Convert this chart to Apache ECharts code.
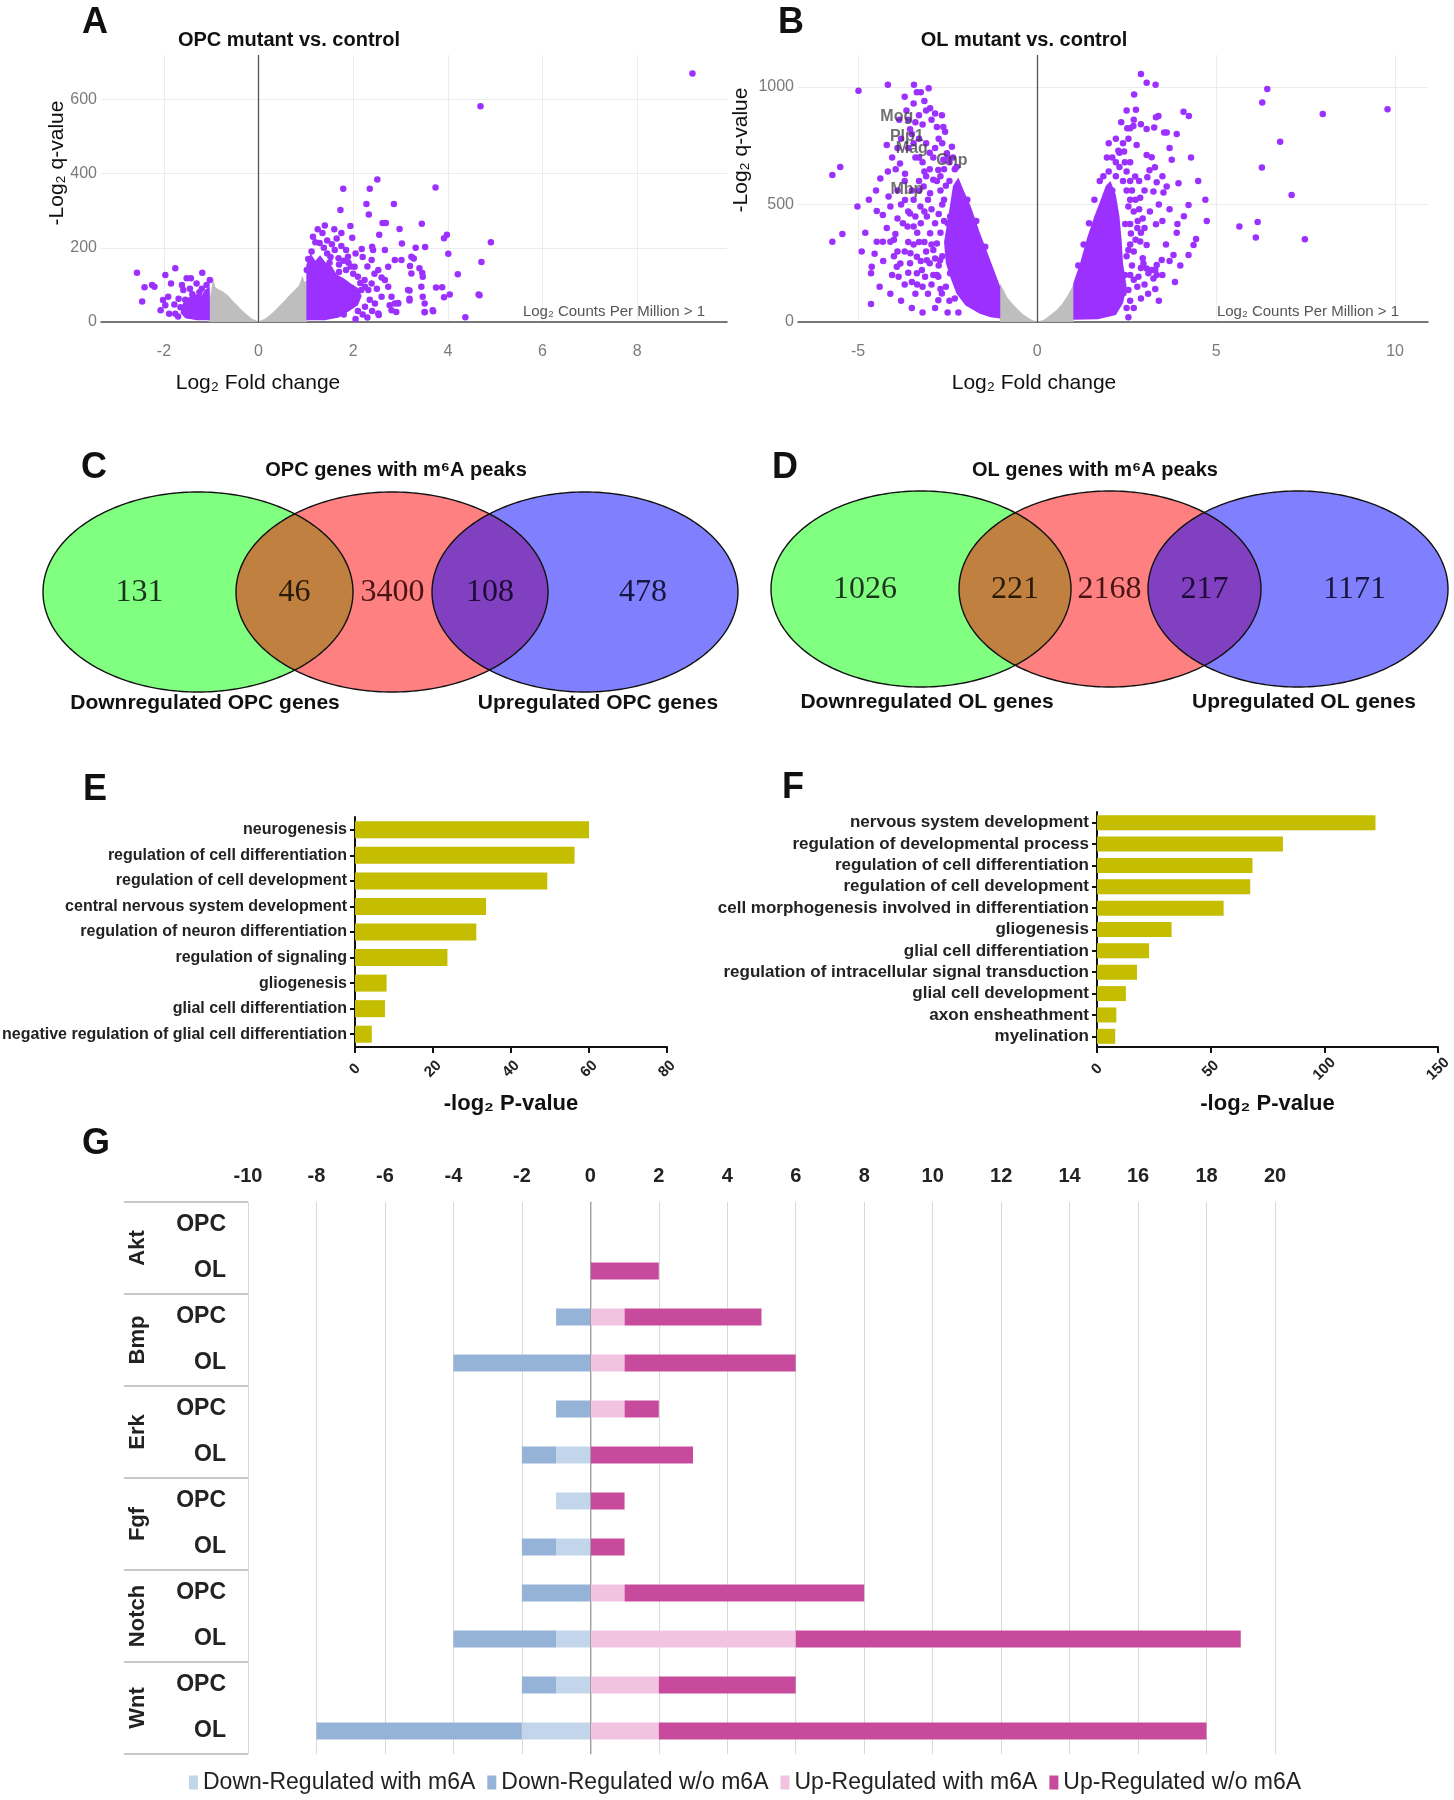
<!DOCTYPE html>
<html>
<head>
<meta charset="utf-8">
<script src="https://cdn.jsdelivr.net/npm/echarts@6/dist/echarts.min.js"></script>
<style>html,body{margin:0;padding:0;background:#fff}#chart{width:1454px;height:1800px}</style>
</head>
<body>
<div id="chart"></div>
<script>
// ================= DATA =================
// Panel A: OPC volcano (log2 fold change, -log2 q-value)
const opcSignificant = [
  [9.17,670],[4.69,582],[2.51,384],[3.74,363],[1.79,359],[2.35,359],[1.73,302],[2.28,318],[2.86,318],[2.33,290],
  [1.94,259],[2.98,251],[3.45,265],[2.62,267],[2.69,267],[2.55,235],[3.98,235],[3.92,226],[4.91,215],[1.98,227],
  [2.18,197],[3.32,200],[3.52,202],[3.03,212],[4.01,184],[4.71,162],[4.21,129],[3.28,171],[3.2,151],[3.46,132],
  [3.75,93],[3.88,94],[3.92,67],[4.67,72],[4.37,13],[3.51,26],[3.69,29],[3.19,85],[3.19,58],[2.95,51],
  [2.77,45],[2.54,19],[4.04,74],[2.4,203],[4.65,74],
  [1.61,194],[1.69,172],[1.85,194],[1.89,176],[2.03,149],[2.10,122],[1.85,140],[2.24,113],[2.32,86],[2.39,167],
  [2.53,140],[2.67,113],[2.74,95],[2.81,68],[2.6,68],[2.46,50],[2.25,41],[2.03,59],[1.92,77],[2.88,50],
  [2.74,149],[2.88,167],[3.02,167],[2.67,194],[2.42,194],[2.53,23],[2.81,32],[2.17,86],[2.39,104],[3.23,176],
  [3.23,131],[3.4,145],[3.47,122],[3.44,95],[3.16,86],[3.19,63],[3.47,68],[3.51,50],[2.95,50],[2.91,27],
  [3.51,27],[3.68,32],
  [1.05,170],[1.12,190],[1.2,215],[1.29,213],[1.38,200],[1.45,185],[1.52,175],[1.3,150],[1.02,140],[1.1,120],
  [1.5,160],[1.7,135],[1.78,100],[1.6,90],[1.9,90],[2.0,80],[1.95,50],[2.1,30],[1.8,20],[1.6,30],[1.4,40],[2.3,12],
  [1.15,230],[1.25,250],[1.35,240],[1.45,220],[1.55,210],[1.65,225],[1.75,205],[1.8,165],[1.95,150],[2.0,130],
  [2.15,105],[2.25,95],[2.35,60],[2.4,30],[2.2,20],[2.05,8],[1.9,160],[1.7,155],[2.5,90],[2.6,120],
  [2.45,130],[2.3,150],[2.2,175],[2.05,185],[1.75,240],[1.6,250],[1.4,260],
  [-2.57,133],[-2.46,55],[-2.41,94],[-2.25,100],[-2.2,95],[-1.97,127],[-2.02,59],[-2.07,32],[-1.85,104],[-1.76,145],
  [-1.91,68],[-1.78,47],[-1.76,22],[-1.62,100],[-1.52,118],[-1.43,118],[-1.59,86],[-1.31,104],[-1.19,133],[-1.03,113],
  [-1.45,90],[-1.2,90],[-1.89,22],[-1.97,45],[-1.69,63],[-1.48,18],[-1.1,100],[-1.25,80],[-1.4,75],[-1.55,60],
  [-1.65,40],[-1.7,15]
];
// dense cores of significant genes (outline)
const opcDenseUp = [[1.01,5],[1.01,155],[1.1,185],[1.2,165],[1.3,180],[1.42,160],[1.55,150],[1.65,128],[1.8,118],[1.95,104],[2.1,92],[2.18,70],[2.1,45],[1.9,28],[1.7,12],[1.4,5]];
const opcDenseDown = [[-1.03,5],[-1.03,95],[-1.12,88],[-1.2,72],[-1.35,75],[-1.5,65],[-1.6,50],[-1.65,25],[-1.55,10],[-1.3,5]];
// non-significant (grey) cloud upper envelope
const opcNonSig = [[-1.05,55],[-1.0,85],[-0.96,120],[-0.92,95],[-0.85,88],[-0.75,82],[-0.65,72],[-0.55,58],[-0.45,45],[-0.35,32],[-0.25,20],[-0.15,10],[-0.05,4],[0,2],[0.05,4],[0.15,10],[0.25,20],[0.35,32],[0.45,45],[0.55,58],[0.65,72],[0.75,85],[0.85,98],[0.93,125],[0.97,108],[1.02,112]];

// Panel B: OL volcano
const olSignificant = [
  [-4.99,984],[-4.17,1009],[-3.44,1009],[-3.36,978],[-3.25,978],[-3.03,995],[-3.70,958],[-2.99,909],[-2.85,887],[-2.66,880],
  [-2.8,830],[-2.62,830],[-2.57,809],[-5.72,625],[-5.5,660],[-5.72,341],[-5.44,374],[-5.02,491],[-4.64,77],[-4.64,207],
  [-4.62,235],[-4.54,290],[-4.48,341],[-4.31,341],[-4.1,341],[-3.96,374],[-4.48,472],[-4.31,455],[-4.38,611],[-4.17,640],
  [-4.2,753],[-3.92,235],[-3.82,249],[-3.87,192],[-3.62,406],[-3.4,449],[-3.54,292],[-3.36,278],[-3.22,221],[-3.13,192],
  [-3.36,207],[-4.15,534],[-4.1,491],[-3.83,674],[-3.69,631],[-3.69,519],[-3.55,462],[-3.45,406],[-3.26,491],[-3.08,449],
  [-2.99,378],[-3.17,576],[-2.99,548],[-2.9,605],[-2.76,647],[-2.62,690],[-2.52,718],[-2.38,746],[-2.8,334],[-2.71,263],
  [-2.76,192],[-2.66,121],[-2.76,93],[-2.9,306],[-3.08,263],[-2.43,449],[-2.43,378],[-2.43,292],[-2.43,207],
  [-3.6,860],[-3.4,850],[-3.2,840],[-3.5,800],[-3.3,780],[-3.1,760],[-3.0,720],[-2.9,700],[-3.6,740],[-3.4,700],
  [-3.2,680],[-3.8,780],[-3.9,740],[-3.0,650],[-2.8,600],[-2.7,560],[-2.6,520],[-3.1,620],[-3.3,600],[-3.5,560],
  [-3.7,600],[-3.9,560],[-3.8,500],[-3.9,440],[-3.6,340],[-3.7,300],[-3.3,340],[-3.1,300],[-3.0,250],[-2.9,200],
  [-3.2,150],[-3.5,170],[-4.0,280],[-4.2,400],[-4.5,560],[-4.7,520],
  [-2.3,650],[-2.45,600],[-2.6,430],[-2.7,380],[-2.75,240],[-2.55,150],[-2.3,100],[-1.95,520],[-1.7,430],[-1.45,320],
  [-2.5,700],[-2.6,650],[-2.7,620],[-2.55,580],[-2.65,500],[-2.75,460],[-2.85,420],[-2.95,480],[-3.05,520],[-3.15,470],
  [-3.25,420],[-3.35,380],[-3.45,330],[-3.55,250],[-3.25,260],[-3.15,340],[-2.95,330],[-2.85,270],[-2.95,160],[-3.05,120],
  [-2.85,60],[-3.4,120],[-3.7,160],[-3.9,300],[-4.0,350],[-3.75,420],[-3.6,470],[-3.45,520],[-3.3,560],[-3.15,640],
  [-3.3,700],[-3.45,760],[-3.55,820],[-3.3,880],[-3.1,900],[-2.95,860],[-2.75,780],[-2.85,740],[-2.65,760],[-2.45,680],
  [-2.35,700],[-2.25,660],[-2.5,420],[-2.65,280],[-2.7,140],[-2.5,40],[-2.2,40],[-2.45,90],[-2.8,200],[-3.35,160],
  [-3.6,210],[-4.05,200],[-4.3,260],[-4.4,150],[-4.1,120],[-3.8,90],[-3.5,60],[-3.2,40],[-4.8,380],[-4.9,300],
  [-3.95,650],[-4.05,700],[-3.65,900],[-3.85,860],[-3.45,930],[-3.15,940],
  [2.9,1055],[3.06,1018],[3.31,1009],[2.71,968],[2.76,903],[4.09,895],[4.24,876],[3.32,871],[3.39,876],[2.52,824],
  [2.6,824],[2.69,834],[2.9,841],[3.06,821],[3.27,828],[3.55,806],[3.62,806],[2.78,753],[2.27,729],[2.43,725],
  [3.06,711],[3.2,701],[3.76,690],[3.29,658],[3.14,646],[2.74,619],[3.08,616],[3.34,595],[3.62,576],[3.95,590],
  [3.25,555],[3.53,551],[4.23,498],[2.88,529],[2.55,491],[2.46,417],[2.6,417],[2.81,430],[3.32,416],[3.5,430],
  [3.92,417],[4.74,430],[4.37,328],[4.44,353],[4.23,285],[3.81,285],[3.48,264],[3.34,243],[3.2,221],[3.06,228],
  [2.88,342],[3.06,328],[2.55,306],[2.62,377],[2.95,271],[2.97,249],[3.3,221],[3.34,200],[3.25,185],[3.11,207],
  [2.83,192],[2.55,136],[2.32,207],[2.41,122],
  [6.43,991],[6.29,934],[6.79,767],[6.28,657],[7.11,540],[7.98,885],[9.79,905],[5.65,406],[6.16,426],[6.11,360],[7.48,352],
  [2.2,680],[2.1,700],[2.3,660],[2.0,640],[1.85,620],[2.4,600],[2.5,560],[2.6,520],[2.7,470],[2.8,400],
  [2.9,380],[2.7,300],[2.65,240],[2.7,180],[2.8,150],[2.6,90],[2.5,60],[1.6,520],[1.45,420],[1.3,330],[1.15,240],
  [2.1,560],[2.2,620],[2.3,720],[2.4,760],[2.45,680],[2.5,640],[2.6,600],[2.65,560],[2.75,520],[2.85,480],
  [2.95,440],[3.0,400],[2.75,350],[2.6,330],[2.5,280],[2.45,200],[2.6,200],[2.9,230],[3.0,160],[2.9,100],
  [2.7,60],[2.55,20],[3.1,120],[3.3,140],[3.5,200],[3.7,260],[3.6,330],[3.9,380],[4.1,450],[3.7,480],
  [3.4,500],[3.15,470],[3.0,560],[2.85,600],[2.6,680],[2.55,780],[2.7,860],[2.5,900],[2.35,850],[2.2,780],
  [1.95,700],[1.75,600],[2.0,760],[3.5,620],[3.7,740],[3.9,800],[4.3,700],[4.5,600],[4.7,520],[3.85,170],
  [4.0,240],[3.4,90]
];
const olDenseDown = [[-1.03,15],[-1.03,150],[-1.3,260],[-1.6,380],[-1.85,490],[-2.05,560],[-2.2,615],[-2.35,580],[-2.45,480],[-2.6,340],[-2.55,250],[-2.4,180],[-2.25,120],[-2.0,70],[-1.6,35],[-1.3,20]];
const olDenseUp = [[1.01,10],[1.01,165],[1.2,250],[1.4,360],[1.6,450],[1.75,510],[1.92,580],[2.05,600],[2.2,540],[2.3,450],[2.36,350],[2.4,250],[2.5,150],[2.4,80],[2.2,30],[1.7,12]];
const olNonSig = [[-1.04,165],[-0.95,140],[-0.84,106],[-0.7,80],[-0.56,57],[-0.42,36],[-0.28,21],[-0.14,8],[0,2],[0.18,8],[0.35,28],[0.55,52],[0.7,78],[0.83,107],[0.95,140],[1.02,165]];
const olGeneNames = ['Mog','Plp1','Mag','Cnp','Mbp'];
const olGenePoints = [[-3.92,876],[-3.64,787],[-3.5,737],[-2.38,686],[-3.64,562]];

// Panels C, D: Venn counts (left only, left∩middle, middle only, middle∩right, right only)
const vennOpcCounts = [131, 46, 3400, 108, 478];
const vennOlCounts = [1026, 221, 2168, 217, 1171];

// Panels E, F: GO terms
const goOpcTerms = ['neurogenesis','regulation of cell differentiation','regulation of cell development','central nervous system development','regulation of neuron differentiation','regulation of signaling','gliogenesis','glial cell differentiation','negative regulation of glial cell differentiation'];
const goOpcValues = [60.0, 56.3, 49.3, 33.6, 31.1, 23.7, 8.1, 7.7, 4.3];
const goOlTerms = ['nervous system development','regulation of developmental process','regulation of cell differentiation','regulation of cell development','cell morphogenesis involved in differentiation','gliogenesis','glial cell differentiation','regulation of intracellular signal transduction','glial cell development','axon ensheathment','myelination'];
const goOlValues = [122.5, 81.8, 68.4, 67.4, 55.7, 32.8, 22.9, 17.6, 12.7, 8.5, 8.0];

// Panel G: pathway gene counts
const pathwayGroups = ['Akt','Bmp','Erk','Fgf','Notch','Wnt'];
const cellTypes = ['OPC','OL'];
const downWithM6A    = [0,0, 0,0, 0,-1, -1,-1, 0,-1, -1,-2];
const downWithoutM6A = [0,0, -1,-4, -1,-1, 0,-1, -2,-3, -1,-6];
const upWithM6A      = [0,0, 1,1, 1,0, 0,0, 1,6, 2,2];
const upWithoutM6A   = [0,2, 4,5, 1,3, 1,1, 7,13, 4,16];
const pathSeriesNames = ['Down-Regulated with m6A','Down-Regulated w/o m6A','Up-Regulated with m6A','Up-Regulated w/o m6A'];

// ================= STYLE / LAYOUT =================
const FONT = '"Liberation Sans", Arial, Helvetica, sans-serif';
const SERIF = '"Liberation Serif", "Times New Roman", serif';
const PURPLE = '#9b30ff';
const GREY = '#bebebe';
const GO_COLOR = '#c4bd00';
const PATH_COLORS = ['#c3d5eb', '#95b3d7', '#f1c3e1', '#c84a9c'];
const VENN_FILL = ['#80ff80', '#ff8080', '#8080ff'];
const VENN_LENS = ['#c08040', '#8040c0'];
const VENN_TEXT = ['#1c351c', '#2a1a08', '#4a1414', '#1e0a36', '#16163f'];
// Venn geometry in panel units (panel grid maps 1 unit = 1 px)
const vennOpcLayout = { cx: [198, 392, 585], cy: 162, rx: [155, 156, 153], ry: 100 };
const vennOlLayout  = { cx: [181, 370, 558], cy: 159, rx: [150, 151, 150], ry: 98 };

const pathRowKeys = [];
pathwayGroups.forEach(g => cellTypes.forEach(c => pathRowKeys.push(g + '|' + c)));

function txt(text, x, y, size, o) {
  o = o || {};
  const weight = o.bold ? 'bold' : 'normal';
  return {
    type: 'text', x: x, y: y, rotation: o.rot || 0, silent: true, z: 100,
    style: {
      text: text, fill: o.color || '#111',
      font: weight + ' ' + size + 'px ' + (o.family || FONT),
      fontSize: size, fontWeight: weight, fontFamily: o.family || FONT,
      align: o.align || 'center', verticalAlign: 'middle',
      textAlign: o.align || 'center', textVerticalAlign: 'middle'
    }
  };
}

function stepLabel(step) {
  return function (v) { return Math.abs(v / step - Math.round(v / step)) < 1e-6 ? String(Math.round(v)) : ''; };
}

function volcanoX(gi, min, max, step) {
  return {
    gridIndex: gi, type: 'value', min: min, max: max, minInterval: step, maxInterval: step, splitNumber: 7,
    axisLine: { show: true, onZero: false, lineStyle: { color: '#4d4d4d', width: 1.5 } },
    axisTick: { show: false },
    axisLabel: { color: '#7a7a7a', fontSize: 16, margin: 22, formatter: stepLabel(step) },
    splitLine: { show: true, showMinLine: false, showMaxLine: false, lineStyle: { color: '#ececec', width: 1 } }
  };
}
function volcanoY(gi, max, step) {
  return {
    gridIndex: gi, type: 'value', min: 0, max: max, interval: step,
    axisLine: { show: false }, axisTick: { show: false },
    axisLabel: { color: '#7a7a7a', fontSize: 16, margin: 4, formatter: stepLabel(step) },
    splitLine: { show: true, showMaxLine: false, lineStyle: { color: '#ececec', width: 1 } }
  };
}
function polygonSeries(xi, poly, color, z) {
  return {
    type: 'custom', xAxisIndex: xi, yAxisIndex: xi, data: [[0, 0]], silent: true, z: z,
    renderItem: function (params, api) {
      return { type: 'polygon', shape: { points: poly.map(p => api.coord(p)) }, style: { fill: color } };
    }
  };
}
function greySeries(xi, env) {
  return {
    type: 'line', xAxisIndex: xi, yAxisIndex: xi, data: env, symbol: 'none', silent: true, z: 1,
    lineStyle: { width: 0, color: GREY }, itemStyle: { color: GREY },
    areaStyle: { color: GREY, opacity: 1 }
  };
}
function scatterSeries(xi, pts) {
  return {
    type: 'scatter', xAxisIndex: xi, yAxisIndex: xi, data: pts, symbolSize: 6.5, z: 3, silent: true,
    itemStyle: { color: PURPLE, opacity: 1 },
    markLine: {
      silent: true, symbol: 'none', label: { show: false },
      lineStyle: { color: '#555', width: 1.3, type: 'solid' },
      data: [{ xAxis: 0 }]
    }
  };
}

// ---- Venn rendering ----
function ellPixels(api, L, i) {
  const c = api.coord([L.cx[i], L.cy]);
  const e = api.coord([L.cx[i] + L.rx[i], L.cy + L.ry]);
  return { cx: c[0], cy: c[1], rx: Math.abs(e[0] - c[0]), ry: Math.abs(e[1] - c[1]) };
}
function ellOutline(e, n) {
  const pts = [];
  for (let k = 0; k < n; k++) {
    const t = 2 * Math.PI * k / n;
    pts.push([e.cx + e.rx * Math.cos(t), e.cy + e.ry * Math.sin(t)]);
  }
  return pts;
}
function inside(e, p) {
  const dx = (p[0] - e.cx) / e.rx, dy = (p[1] - e.cy) / e.ry;
  return dx * dx + dy * dy <= 1.0001;
}
function lens(a, b) {
  const pts = ellOutline(a, 720).filter(p => inside(b, p)).concat(ellOutline(b, 720).filter(p => inside(a, p)));
  let mx = 0, my = 0;
  pts.forEach(p => { mx += p[0]; my += p[1]; });
  mx /= pts.length; my /= pts.length;
  pts.sort((p, q) => Math.atan2(p[1] - my, p[0] - mx) - Math.atan2(q[1] - my, q[0] - mx));
  return pts;
}
function vennSeries(gi, L, counts) {
  return {
    type: 'custom', xAxisIndex: gi, yAxisIndex: gi, data: [[0, 0]], silent: true, clip: false,
    renderItem: function (params, api) {
      const E = [0, 1, 2].map(i => ellPixels(api, L, i));
      const children = [];
      E.forEach((e, i) => children.push({ type: 'polygon', shape: { points: ellOutline(e, 240) }, style: { fill: VENN_FILL[i] } }));
      children.push({ type: 'polygon', shape: { points: lens(E[0], E[1]) }, style: { fill: VENN_LENS[0] } });
      children.push({ type: 'polygon', shape: { points: lens(E[1], E[2]) }, style: { fill: VENN_LENS[1] } });
      E.forEach(e => children.push({ type: 'polygon', shape: { points: ellOutline(e, 240) }, style: { fill: 'none', stroke: '#111', lineWidth: 1.4 } }));
      const left = e => e.cx - e.rx, right = e => e.cx + e.rx;
      const xs = [
        (left(E[0]) + left(E[1])) / 2,
        (left(E[1]) + right(E[0])) / 2,
        (right(E[0]) + left(E[2])) / 2,
        (left(E[2]) + right(E[1])) / 2,
        (right(E[1]) + right(E[2])) / 2
      ];
      counts.forEach((n, i) => children.push({
        type: 'text',
        style: { text: String(n), x: xs[i], y: E[1].cy + 1, fill: VENN_TEXT[i],
          font: 'normal 32px ' + SERIF, fontSize: 32, fontFamily: SERIF,
          align: 'center', verticalAlign: 'middle', textAlign: 'center', textVerticalAlign: 'middle' }
      }));
      return { type: 'group', children: children };
    }
  };
}

// ---- GO bar axes ----
function goX(gi, max, step) {
  return {
    gridIndex: gi, type: 'value', min: 0, max: max, interval: step,
    axisLine: { show: true, lineStyle: { color: '#111', width: 2 } },
    axisTick: { show: true, length: 6, lineStyle: { color: '#111', width: 2 } },
    axisLabel: { rotate: 45, align: 'center', verticalAlign: 'middle', margin: 22, color: '#222', fontSize: 15, fontWeight: 'bold' },
    splitLine: { show: false },
    name: '-log\u2082 P-value', nameLocation: 'middle', nameGap: 46,
    nameTextStyle: { color: '#111', fontSize: 22, fontWeight: 'bold' }
  };
}
function goY(gi, terms, size) {
  return {
    gridIndex: gi, type: 'category', data: terms, inverse: true,
    axisLine: { show: true, lineStyle: { color: '#111', width: 2 } },
    axisTick: { show: true, alignWithLabel: true, length: 5, lineStyle: { color: '#111', width: 2 } },
    axisLabel: { interval: 0, color: '#222', fontSize: size, fontWeight: 'bold', margin: 8 },
    splitLine: { show: false }
  };
}

const option = {
  animation: false,
  backgroundColor: '#ffffff',
  textStyle: { fontFamily: FONT },
  grid: [
    { left: 101, top: 55, width: 626, height: 267, outerBoundsMode: 'none' },
    { left: 798, top: 55, width: 630, height: 267, outerBoundsMode: 'none' },
    { left: 0, top: 430, width: 740, height: 300, outerBoundsMode: 'none', show: false },
    { left: 740, top: 430, width: 714, height: 300, outerBoundsMode: 'none', show: false },
    { left: 355, top: 817, width: 312, height: 230, outerBoundsMode: 'none' },
    { left: 1097, top: 812, width: 341, height: 235, outerBoundsMode: 'none' },
    { left: 248, top: 1202, width: 1027, height: 552, outerBoundsMode: 'none' }
  ],
  xAxis: [
    volcanoX(0, -3.33, 9.9, 2),
    volcanoX(1, -6.68, 10.92, 5),
    { gridIndex: 2, type: 'value', min: 0, max: 740, show: false },
    { gridIndex: 3, type: 'value', min: 0, max: 714, show: false },
    goX(4, 80, 20),
    goX(5, 150, 50),
    {
      gridIndex: 6, type: 'value', position: 'top', min: -10, max: 20, interval: 2,
      axisLine: { show: false }, axisTick: { show: false },
      axisLabel: { color: '#222', fontSize: 20, fontWeight: 'bold', margin: 16 },
      splitLine: { show: true, lineStyle: { color: '#d9d9d9', width: 1 } }
    }
  ],
  yAxis: [
    volcanoY(0, 720, 200),
    volcanoY(1, 1136, 500),
    { gridIndex: 2, type: 'value', min: 0, max: 300, inverse: true, show: false },
    { gridIndex: 3, type: 'value', min: 0, max: 300, inverse: true, show: false },
    goY(4, goOpcTerms, 16),
    goY(5, goOlTerms, 17),
    {
      gridIndex: 6, type: 'category', data: pathRowKeys, inverse: true, position: 'left',
      axisLine: { show: true, lineStyle: { color: '#c8c8c8', width: 1.5 } },
      axisTick: { show: false },
      axisLabel: { interval: 0, color: '#222', fontSize: 23, fontWeight: 'bold', margin: 22,
        formatter: v => v.split('|')[1] },
      splitLine: { show: false }
    },
    {
      gridIndex: 6, type: 'category', data: pathwayGroups, inverse: true, position: 'left', offset: 0,
      axisLine: { show: false },
      axisTick: { show: true, length: 124, lineStyle: { color: '#c8c8c8', width: 2 } },
      axisLabel: { interval: 0, rotate: 90, align: 'center', verticalAlign: 'middle', margin: 110,
        color: '#222', fontSize: 22, fontWeight: 'bold' },
      splitLine: { show: false }
    }
  ],
  legend: {
    data: pathSeriesNames, left: 189, top: 1771, padding: 0, icon: 'rect',
    itemWidth: 9, itemHeight: 14, itemGap: 12,
    textStyle: { fontSize: 23, color: '#222', fontFamily: FONT }
  },
  graphic: {
    elements: [
      txt('A', 95, 23, 36, { bold: true }),
      txt('OPC mutant vs. control', 289, 40, 20, { bold: true }),
      txt('B', 791, 23, 36, { bold: true }),
      txt('OL mutant vs. control', 1024, 40, 20, { bold: true }),
      txt('-Log\u2082 q-value', 57, 163, 21, { rot: Math.PI / 2 }),
      txt('Log\u2082 Fold change', 258, 383, 21, {}),
      txt('-Log\u2082 q-value', 741, 150, 21, { rot: Math.PI / 2 }),
      txt('Log\u2082 Fold change', 1034, 383, 21, {}),
      txt('Log\u2082 Counts Per Million > 1', 614, 312, 15, { color: '#555' }),
      txt('Log\u2082 Counts Per Million > 1', 1308, 312, 15, { color: '#555' }),
      txt('C', 94, 468, 36, { bold: true }),
      txt('OPC genes with m\u2076A peaks', 396, 470, 20, { bold: true }),
      txt('D', 785, 468, 36, { bold: true }),
      txt('OL genes with m\u2076A peaks', 1095, 470, 20, { bold: true }),
      txt('Downregulated OPC genes', 205, 703, 21, { bold: true }),
      txt('Upregulated OPC genes', 598, 703, 21, { bold: true }),
      txt('Downregulated OL genes', 927, 702, 21, { bold: true }),
      txt('Upregulated OL genes', 1304, 702, 21, { bold: true }),
      txt('E', 95, 790, 36, { bold: true }),
      txt('F', 793, 788, 36, { bold: true }),
      txt('G', 96, 1144, 36, { bold: true })
    ]
  },
  series: [
    // A
    greySeries(0, opcNonSig),
    polygonSeries(0, opcDenseDown, PURPLE, 2),
    polygonSeries(0, opcDenseUp, PURPLE, 2),
    scatterSeries(0, opcSignificant),
    // B
    greySeries(1, olNonSig),
    polygonSeries(1, olDenseDown, PURPLE, 2),
    polygonSeries(1, olDenseUp, PURPLE, 2),
    scatterSeries(1, olSignificant),
    {
      type: 'scatter', xAxisIndex: 1, yAxisIndex: 1, symbolSize: 0, silent: true, z: 5,
      data: olGeneNames.map((n, i) => ({ name: n, value: olGenePoints[i] })),
      label: { show: true, position: 'inside', formatter: '{b}', color: 'rgba(60,60,60,0.92)', fontSize: 16, fontWeight: 'bold' }
    },
    // C, D
    vennSeries(2, vennOpcLayout, vennOpcCounts),
    vennSeries(3, vennOlLayout, vennOlCounts),
    // E, F
    { type: 'bar', xAxisIndex: 4, yAxisIndex: 4, data: goOpcValues, barWidth: 17, itemStyle: { color: GO_COLOR }, silent: true },
    { type: 'bar', xAxisIndex: 5, yAxisIndex: 5, data: goOlValues, barWidth: 15, itemStyle: { color: GO_COLOR }, silent: true },
    // G
    { name: pathSeriesNames[0], type: 'bar', xAxisIndex: 6, yAxisIndex: 6, stack: 'g', stackStrategy: 'samesign', data: downWithM6A, barWidth: 17, itemStyle: { color: PATH_COLORS[0] }, silent: true },
    { name: pathSeriesNames[1], type: 'bar', xAxisIndex: 6, yAxisIndex: 6, stack: 'g', stackStrategy: 'samesign', data: downWithoutM6A, barWidth: 17, itemStyle: { color: PATH_COLORS[1] }, silent: true },
    { name: pathSeriesNames[2], type: 'bar', xAxisIndex: 6, yAxisIndex: 6, stack: 'g', stackStrategy: 'samesign', data: upWithM6A, barWidth: 17, itemStyle: { color: PATH_COLORS[2] }, silent: true },
    { name: pathSeriesNames[3], type: 'bar', xAxisIndex: 6, yAxisIndex: 6, stack: 'g', stackStrategy: 'samesign', data: upWithoutM6A, barWidth: 17, itemStyle: { color: PATH_COLORS[3] }, silent: true,
      markLine: { silent: true, symbol: 'none', label: { show: false }, lineStyle: { color: '#a0a0a0', width: 1, type: 'solid' }, data: [{ xAxis: 0 }] } }
  ]
};

const chart = echarts.init(document.getElementById('chart'), null, { renderer: 'canvas' });
chart.setOption(option);
</script>
</body>
</html>
